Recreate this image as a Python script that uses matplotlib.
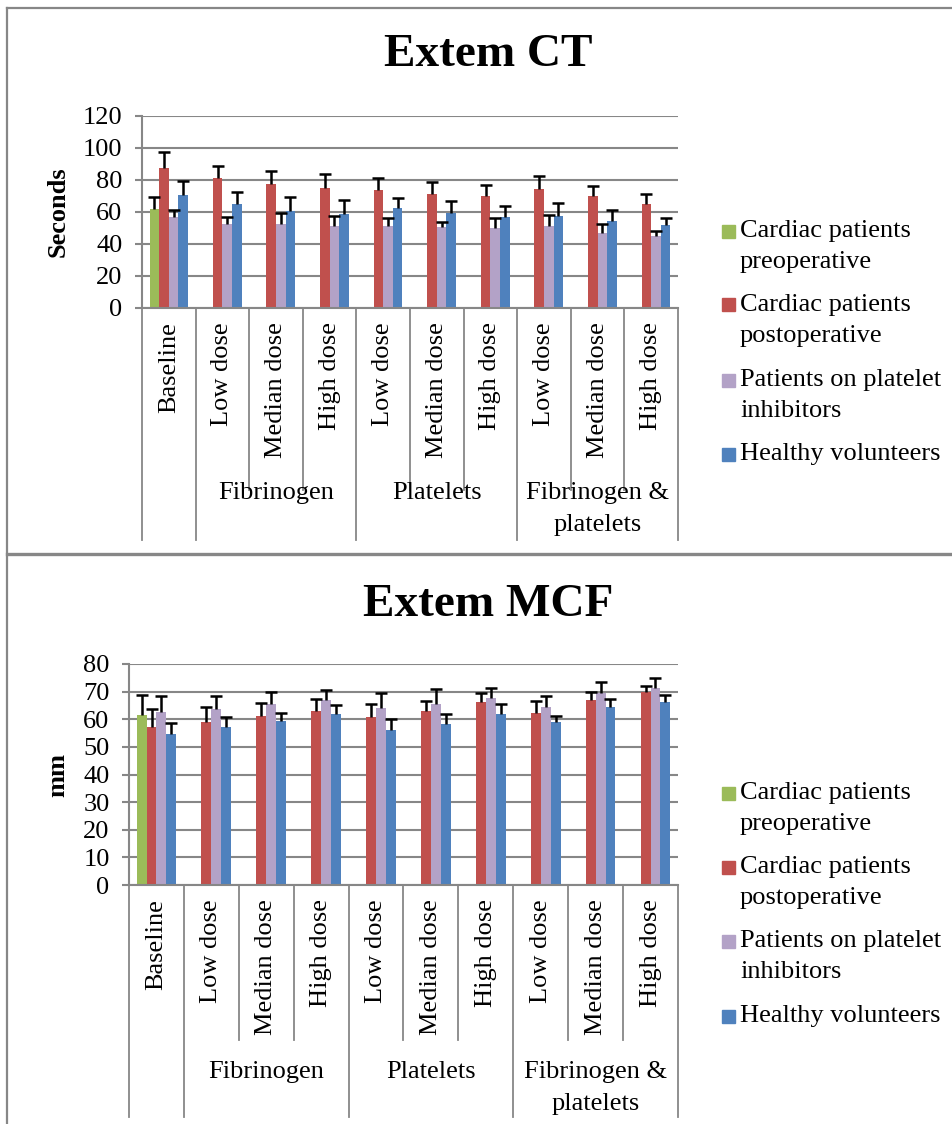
import numpy as np
import matplotlib
matplotlib.use('Agg')
import matplotlib.pyplot as plt
import matplotlib.transforms as mtransforms
from matplotlib.lines import Line2D
from matplotlib.patches import Rectangle

plt.rcParams['font.family'] = ['Liberation Serif', 'DejaVu Serif']

# canvas size in pixels
W, H = 953, 1124

categories = ['Baseline', 'Low dose', 'Median dose', 'High dose',
              'Low dose', 'Median dose', 'High dose',
              'Low dose', 'Median dose', 'High dose']
groups = ['Fibrinogen', 'Platelets', 'Fibrinogen &\nplatelets']
series_names = ['Cardiac patients\npreoperative', 'Cardiac patients\npostoperative',
                'Patients on platelet\ninhibitors', 'Healthy volunteers']
series_colors = ['#9BBB59', '#C0504D', '#B3A2C7', '#4F81BD']

nan = np.nan
# Extem CT (seconds): mean and upper SD for each series
ct_pre = [61.6, nan, nan, nan, nan, nan, nan, nan, nan, nan]
ct_pre_sd = [7.7, nan, nan, nan, nan, nan, nan, nan, nan, nan]
ct_post = [87.7, 81.2, 77.2, 74.7, 73.5, 71.4, 69.9, 74.5, 69.9, 65.1]
ct_post_sd = [9.8, 7.7, 8.2, 9.0, 7.9, 7.5, 6.7, 7.8, 6.5, 6.3]
ct_inhib = [57.0, 52.2, 52.8, 51.1, 51.4, 50.5, 50.3, 51.4, 47.0, 44.7]
ct_inhib_sd = [4.4, 4.8, 6.3, 6.1, 5.0, 3.5, 6.1, 6.6, 5.6, 3.7]
ct_healthy = [70.6, 64.7, 60.8, 58.5, 62.4, 59.5, 56.6, 57.6, 54.1, 51.8]
ct_healthy_sd = [8.7, 7.7, 8.3, 8.9, 6.1, 7.1, 7.3, 8.2, 7.1, 4.6]

# Extem MCF (mm)
mcf_pre = [61.6, nan, nan, nan, nan, nan, nan, nan, nan, nan]
mcf_pre_sd = [7.0, nan, nan, nan, nan, nan, nan, nan, nan, nan]
mcf_post = [57.3, 59.1, 61.2, 63.1, 60.8, 63.0, 66.2, 62.4, 67.0, 69.8]
mcf_post_sd = [6.5, 5.3, 4.8, 4.3, 4.8, 3.7, 3.2, 4.3, 2.8, 2.3]
mcf_inhib = [62.8, 63.8, 65.6, 66.8, 64.1, 65.6, 67.7, 64.5, 69.4, 71.3]
mcf_inhib_sd = [5.5, 4.5, 4.1, 3.9, 5.4, 5.4, 3.7, 3.9, 4.1, 3.7]
mcf_healthy = [54.8, 57.3, 59.3, 61.8, 56.2, 58.3, 61.8, 59.0, 64.5, 66.3]
mcf_healthy_sd = [3.9, 3.5, 2.9, 3.3, 3.9, 3.5, 3.8, 2.3, 2.9, 2.3]

GRAY = '#878787'
FS = 19


def fy(y):
    return 1 - y / H


def draw_chart(fig, box, title, title_y, ylabel, ylabel_y, ylim, ystep,
               means, sds, sep_short, sep_long, group_y, legend_y):
    left, top, right, bottom = box
    ax = fig.add_axes([left / W, fy(bottom), (right - left) / W, (bottom - top) / H])
    x = np.arange(len(categories))
    width = 0.18
    for i, (m, s) in enumerate(zip(means, sds)):
        xi = x + (i - 1.5) * width
        m = np.array(m)
        s = np.array(s)
        ax.bar(xi, m, width, color=series_colors[i], zorder=2)
        # upper error only: stem plus a cap at the top
        ax.errorbar(xi, m, yerr=[np.zeros(len(m)), s], fmt='none', ecolor='black',
                    elinewidth=1.8, capsize=0, zorder=3)
        ax.plot(xi, m + s, linestyle='none', marker='_', markersize=8,
                markeredgewidth=1.8, color='black', zorder=3)

    ax.set_xlim(-0.5, len(categories) - 0.5)
    ax.set_ylim(*ylim)
    ax.set_yticks(np.arange(ylim[0], ylim[1] + 1, ystep))
    ax.yaxis.grid(True, color=GRAY, linewidth=1.5)
    ax.set_axisbelow(True)
    ax.tick_params(axis='y', length=5, width=1.5, color=GRAY, labelsize=FS, pad=9)
    ax.set_xticks(x, categories, rotation=90, va='top', ha='center', fontsize=FS)
    ax.tick_params(axis='x', length=0, pad=10)
    for side in ['top', 'right']:
        ax.spines[side].set_visible(False)
    for side in ['left', 'bottom']:
        ax.spines[side].set_color(GRAY)
        ax.spines[side].set_linewidth(1.5)

    # category separators below the axis, longer between groups
    tr = mtransforms.blended_transform_factory(ax.transData, fig.transFigure)
    bounds = np.arange(len(categories) + 1) - 0.5
    group_edges = [-0.5, 0.5, 3.5, 6.5, 9.5]
    for b in bounds:
        end = sep_long if b in group_edges else sep_short
        fig.add_artist(Line2D([b, b], [fy(bottom), fy(end)], transform=tr,
                              color=GRAY, linewidth=1.3))
    for g, (a, c) in zip(groups, zip(group_edges[1:-1], group_edges[2:])):
        for k, line in enumerate(g.split('\n')):
            fig.text((a + c) / 2, fy(group_y + 32 * k), line, transform=tr,
                     ha='center', va='center', fontsize=FS)

    fig.text(488 / W, fy(title_y), title, ha='center', va='center',
             fontsize=34, fontweight='bold')
    fig.text(58 / W, fy(ylabel_y), ylabel, ha='center', va='center', rotation=90,
             fontsize=FS, fontweight='bold')

    # legend entries, square next to the first text line
    for name, color, ly in zip(series_names, series_colors, legend_y):
        fig.add_artist(Rectangle((722 / W, fy(ly + 6.5)), 13 / W, 13 / H,
                                 color=color, transform=fig.transFigure))
        for k, line in enumerate(name.split('\n')):
            fig.text(740 / W, fy(ly + 31 * k), line, ha='left', va='center', fontsize=FS)
    return ax


fig = plt.figure(figsize=(W / 100, H / 100), dpi=100)

draw_chart(fig, (142, 116, 678, 308), 'Extem CT', 55, 'Seconds', 212, (0, 120), 20,
           [ct_pre, ct_post, ct_inhib, ct_healthy],
           [ct_pre_sd, ct_post_sd, ct_inhib_sd, ct_healthy_sd],
           490, 540, 493, [231, 305, 380, 454])

draw_chart(fig, (129, 664, 678, 885), 'Extem MCF', 605, 'mm', 775, (0, 80), 10,
           [mcf_pre, mcf_post, mcf_inhib, mcf_healthy],
           [mcf_pre_sd, mcf_post_sd, mcf_inhib_sd, mcf_healthy_sd],
           1040, 1117, 1072, [793, 867, 941, 1016])

# outer frame and divider between the two charts
fig.add_artist(Line2D([7.5 / W, 1], [fy(7.5), fy(7.5)], color=GRAY, linewidth=1.6))
fig.add_artist(Line2D([7.5 / W, 7.5 / W], [fy(7.5), 0], color=GRAY, linewidth=1.6))
fig.add_artist(Line2D([7.5 / W, 1], [fy(554), fy(554)], color=GRAY, linewidth=2.4))

fig.savefig('out.png', dpi=100)
